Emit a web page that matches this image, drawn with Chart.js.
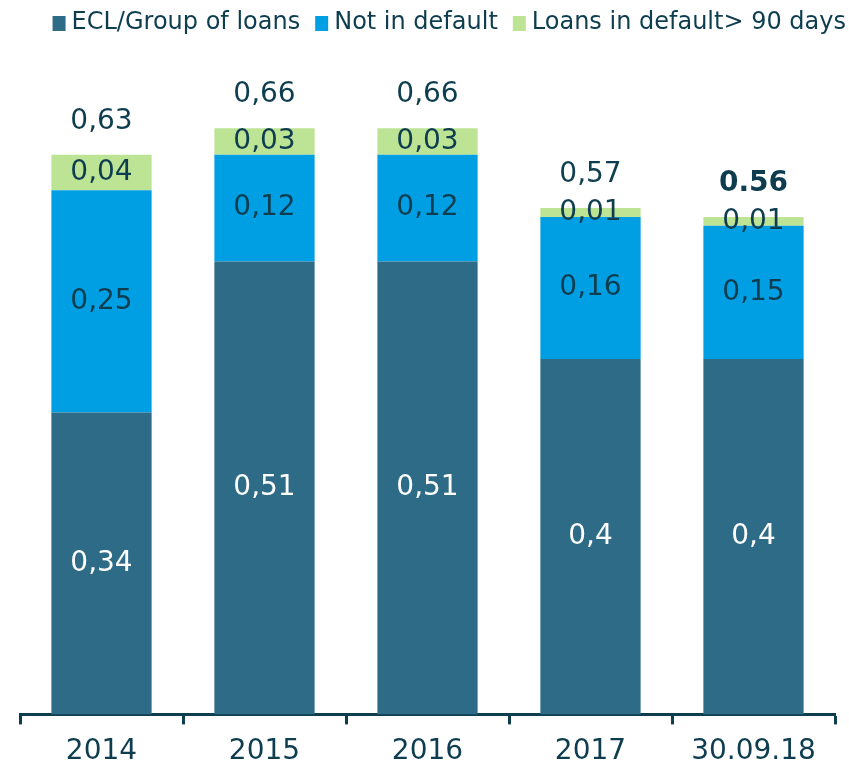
<!DOCTYPE html>
<html>
<head>
<meta charset="utf-8">
<script src="https://cdn.jsdelivr.net/npm/chart.js@4/dist/chart.umd.min.js"></script>
<style>
  html, body { margin: 0; padding: 0; background: #fff; }
</style>
</head>
<body>
<canvas id="chart" width="849" height="769"></canvas>
<script>
const categories = ["2014", "2015", "2016", "2017", "30.09.18"];
const eclGroup = [0.34, 0.51, 0.51, 0.4, 0.4];
const notInDefault = [0.25, 0.12, 0.12, 0.16, 0.15];
const inDefault = [0.04, 0.03, 0.03, 0.01, 0.01];
const totals = ["0,63", "0,66", "0,66", "0,57", "0.56"];

const textColor = "#0d3d4f";
const fontFamily = "'DejaVu Sans', Verdana, sans-serif";

// labels inside the segments and the totals above each bar
const valueLabels = {
  id: "valueLabels",
  afterDatasetsDraw(chart) {
    const ctx = chart.ctx;
    ctx.save();
    ctx.textAlign = "center";
    ctx.textBaseline = "middle";
    ctx.font = "28px " + fontFamily;
    chart.data.datasets.forEach((ds, i) => {
      const meta = chart.getDatasetMeta(i);
      meta.data.forEach((bar, j) => {
        ctx.fillStyle = i === 0 ? "#ffffff" : textColor;
        const txt = String(ds.data[j]).replace(".", ",");
        ctx.fillText(txt, bar.x, (bar.y + bar.base) / 2);
      });
    });
    const top = chart.getDatasetMeta(chart.data.datasets.length - 1);
    top.data.forEach((bar, j) => {
      ctx.fillStyle = textColor;
      ctx.font = (j === totals.length - 1 ? "bold " : "") + "28px " + fontFamily;
      ctx.fillText(totals[j], bar.x, bar.y - 33);
    });
    ctx.restore();
  },
};

// legend drawn by hand: small gap between box and text, right aligned
const topLegend = {
  id: "topLegend",
  afterDraw(chart) {
    const ctx = chart.ctx;
    ctx.save();
    ctx.font = "24px " + fontFamily;
    ctx.textBaseline = "middle";
    ctx.textAlign = "left";
    const items = chart.data.datasets.map((ds) => ({
      label: ds.label,
      color: ds.backgroundColor,
      w: ctx.measureText(ds.label).width,
    }));
    const box = 13, gap = 6, spacing = 15, cy = 23;
    let total = 0;
    items.forEach((it, k) => {
      total += box + gap + it.w + (k < items.length - 1 ? spacing : 0);
    });
    let x = 846 - total;
    items.forEach((it) => {
      ctx.fillStyle = it.color;
      ctx.fillRect(x, cy - 7, box, 15);
      ctx.fillStyle = textColor;
      ctx.fillText(it.label, x + box + gap, cy);
      x += box + gap + it.w + spacing;
    });
    ctx.restore();
  },
};

new Chart(document.getElementById("chart"), {
  type: "bar",
  data: {
    labels: categories,
    datasets: [
      { label: "ECL/Group of loans", data: eclGroup, backgroundColor: "#2e6b87" },
      { label: "Not in default", data: notInDefault, backgroundColor: "#009fe3" },
      { label: "Loans in default> 90 days", data: inDefault, backgroundColor: "#bde394" },
    ],
  },
  options: {
    responsive: false,
    animation: false,
    layout: { padding: { left: 20, right: 14, top: 50, bottom: -11 } },
    datasets: { bar: { barPercentage: 0.615, categoryPercentage: 1 } },
    plugins: {
      tooltip: { enabled: false },
      legend: { display: false },
    },
    scales: {
      x: {
        stacked: true,
        offset: true,
        border: { color: "#0d3d4f", width: 3 },
        grid: {
          offset: true,
          drawOnChartArea: false,
          drawTicks: true,
          tickLength: 10,
          tickWidth: 3,
          color: "#0d3d4f",
        },
        ticks: { color: textColor, font: { size: 28, family: fontFamily }, padding: 11 },
      },
      y: {
        stacked: true,
        display: false,
        min: 0,
        max: 0.748,
      },
    },
  },
  plugins: [valueLabels, topLegend],
});
</script>
</body>
</html>
